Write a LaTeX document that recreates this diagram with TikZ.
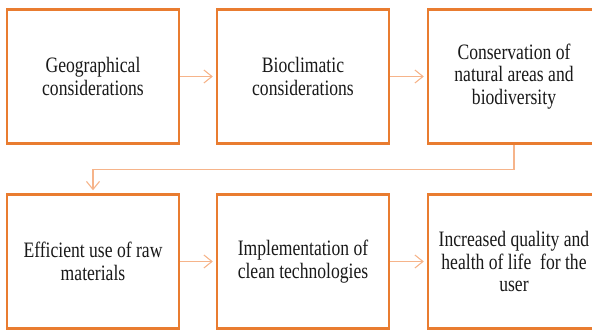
\documentclass[tikz,border=0pt]{standalone}
\usepackage{fontspec}
\setmainfont{Liberation Serif}[FakeStretch=0.8]
\usetikzlibrary{arrows.meta}
\definecolor{boxorange}{HTML}{E97C30}
\definecolor{linkorange}{HTML}{F6B48A}
\begin{document}
\begin{tikzpicture}[x=1pt,y=-1pt,
  stage/.style={draw=boxorange, line width=2.4pt, fill=white,
    minimum width=172pt, minimum height=134pt, align=center,
    font=\fontsize{22}{22.8}\selectfont, text=black!90, inner sep=0pt},
  link/.style={draw=linkorange, line width=1.1pt,
    -{Straight Barb[length=8pt,width=13pt]}, shorten >=3pt}]
\useasboundingbox (0,0) rectangle (592,331);

% top row
\node[stage] (geo)  at (93,76.5)  {Geographical\\considerations};
\node[stage] (bio)  at (303,76.5) {Bioclimatic\\considerations};
\node[stage] (cons) at (514,76.5) {Conservation of\\natural areas and\\biodiversity};

% bottom row
\node[stage] (raw)   at (93,261.5)  {Efficient use of raw\\materials};
\node[stage] (clean) at (303,261.5) {Implementation of\\clean technologies};
\node[stage] (life)  at (514,261.5) {Increased quality and\\health of life\ \ for the\\user};

% flow
\draw[link] (geo.east) -- (bio.west);
\draw[link] (bio.east) -- (cons.west);
\draw[link] (cons.south) -- ++(0,25) -| (raw.north);
\draw[link] (raw.east) -- (clean.west);
\draw[link] (clean.east) -- (life.west);
\end{tikzpicture}
\end{document}
